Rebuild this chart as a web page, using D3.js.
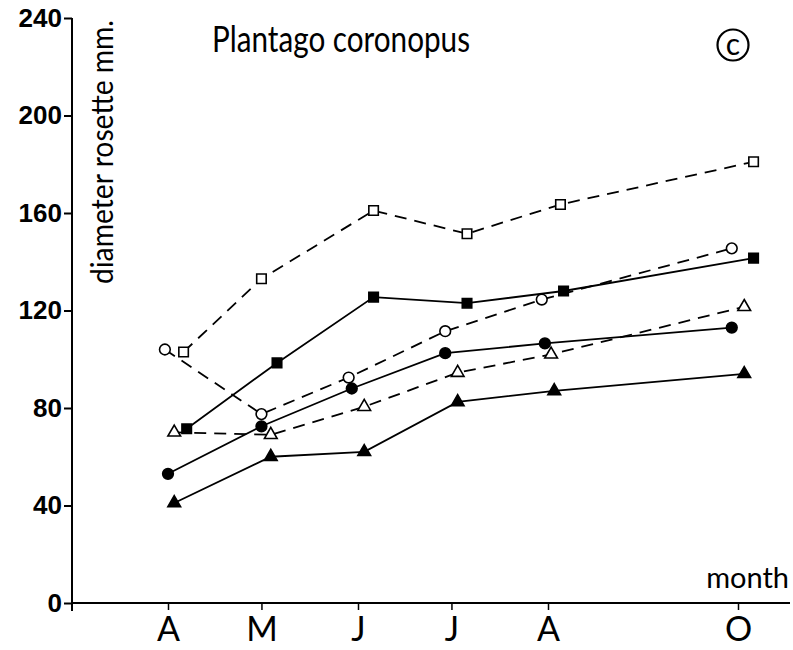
<!DOCTYPE html>
<html>
<head>
<meta charset="utf-8">
<script src="https://cdn.jsdelivr.net/npm/d3@7"></script>
<style>
  body { margin: 0; background: #fff; }
  svg text { fill: #000; }
</style>
</head>
<body>
<div id="chart"></div>
<script>
var svgWidth = 793;
var svgHeight = 650;

// sampling dates (day of visit) and rosette diameters
var parseDate = d3.timeParse("%Y-%m-%d");

var openSquareDates = ["1980-04-20", "1980-05-15", "1980-06-20", "1980-07-20", "1980-08-19", "1980-10-20"];
var openSquareValues = [103, 133, 161, 151.5, 163.5, 181];

var filledSquareDates = ["1980-04-21", "1980-05-20", "1980-06-20", "1980-07-20", "1980-08-20", "1980-10-20"];
var filledSquareValues = [71.5, 98.5, 125.5, 123, 128, 141.5];

var openCircleDates = ["1980-04-14", "1980-05-15", "1980-06-12", "1980-07-13", "1980-08-13", "1980-10-13"];
var openCircleValues = [104, 77.5, 92.5, 111.5, 124.5, 145.5];

var filledCircleDates = ["1980-04-15", "1980-05-15", "1980-06-13", "1980-07-13", "1980-08-14", "1980-10-13"];
var filledCircleValues = [53, 72.5, 88, 102.5, 106.5, 113];

var openTriangleDates = ["1980-04-17", "1980-05-18", "1980-06-17", "1980-07-17", "1980-08-16", "1980-10-17"];
var openTriangleValues = [70, 69, 80.5, 94.5, 102, 121.5];

var filledTriangleDates = ["1980-04-17", "1980-05-18", "1980-06-17", "1980-07-17", "1980-08-17", "1980-10-17"];
var filledTriangleValues = [41, 60, 62, 82.5, 87, 94];

var monthTickDates = ["1980-04-15", "1980-05-15", "1980-06-15", "1980-07-15", "1980-08-15", "1980-10-15"];
var monthTickLabels = ["A", "M", "J", "J", "A", "O"];
var yTickValues = [0, 40, 80, 120, 160, 200, 240];

var series = [
  { dates: openSquareDates, values: openSquareValues, shape: d3.symbolSquare, size: 90, filled: false, dashed: true },
  { dates: filledSquareDates, values: filledSquareValues, shape: d3.symbolSquare, size: 90, filled: true, dashed: false },
  { dates: openCircleDates, values: openCircleValues, shape: d3.symbolCircle, size: 90, filled: false, dashed: true },
  { dates: filledCircleDates, values: filledCircleValues, shape: d3.symbolCircle, size: 90, filled: true, dashed: false },
  { dates: openTriangleDates, values: openTriangleValues, shape: d3.symbolTriangle, size: 70, filled: false, dashed: true },
  { dates: filledTriangleDates, values: filledTriangleValues, shape: d3.symbolTriangle, size: 70, filled: true, dashed: false }
];

var svg = d3.select("#chart")
  .append("svg")
  .attr("width", svgWidth)
  .attr("height", svgHeight);

// scales
var xScale = d3.scaleTime()
  .domain([parseDate("1980-04-15"), parseDate("1980-10-15")])
  .range([168, 738]);
var yScale = d3.scaleLinear()
  .domain([0, 240])
  .range([603, 18]);

var axisLeftX = 72;

// y axis
var yAxis = d3.axisLeft(yScale)
  .tickValues(yTickValues)
  .tickSize(8)
  .tickPadding(2)
  .tickFormat(d3.format("d"));

var yAxisG = svg.append("g")
  .attr("transform", `translate(${axisLeftX},0)`)
  .call(yAxis);
yAxisG.select(".domain").remove();
yAxisG.append("line")
  .attr("x1", 0).attr("x2", 0)
  .attr("y1", yScale(240)).attr("y2", yScale(0) + 8)
  .attr("stroke", "#000").attr("stroke-width", 2);
yAxisG.selectAll(".tick line").attr("stroke-width", 2);
yAxisG.selectAll(".tick text")
  .style("font-family", "'Liberation Sans', Arial, sans-serif")
  .style("font-size", "26px")
  .style("font-weight", "bold");

// x axis
var xAxis = d3.axisBottom(xScale)
  .tickValues(monthTickDates.map(parseDate))
  .tickSize(7)
  .tickPadding(7)
  .tickFormat((d, i) => monthTickLabels[i]);

var xAxisG = svg.append("g")
  .attr("transform", `translate(0,${yScale(0)})`)
  .call(xAxis);
xAxisG.select(".domain").remove();
xAxisG.append("line")
  .attr("x1", axisLeftX).attr("x2", 790)
  .attr("y1", 0).attr("y2", 0)
  .attr("stroke", "#000").attr("stroke-width", 2);
xAxisG.selectAll(".tick line").attr("stroke-width", 1.5);
xAxisG.selectAll(".tick text")
  .style("font-family", "Lato, sans-serif")
  .style("font-size", "34px");

// lines and markers
var line = d3.line()
  .x(d => xScale(d.date))
  .y(d => yScale(d.value));

series.forEach(function(s) {
  var pts = s.dates.map((d, i) => ({ date: parseDate(d), value: s.values[i] }));

  svg.append("path")
    .datum(pts)
    .attr("d", line)
    .attr("fill", "none")
    .attr("stroke", "#000")
    .attr("stroke-width", 1.8)
    .attr("stroke-dasharray", s.dashed ? "12,8" : null);

  svg.selectAll(null)
    .data(pts)
    .enter()
    .append("path")
    .attr("d", d3.symbol().type(s.shape).size(s.size))
    .attr("transform", d => `translate(${xScale(d.date)},${yScale(d.value)})`)
    .attr("fill", s.filled ? "#000" : "#fff")
    .attr("stroke", "#000")
    .attr("stroke-width", 1.6);
});

// texts
svg.append("text")
  .attr("x", 212)
  .attr("y", 52)
  .attr("textLength", 258)
  .attr("lengthAdjust", "spacingAndGlyphs")
  .style("font-family", "Lato, sans-serif")
  .style("font-size", "36px")
  .text("Plantago coronopus");

svg.append("circle")
  .attr("cx", 733).attr("cy", 45).attr("r", 15.5)
  .attr("fill", "none").attr("stroke", "#000").attr("stroke-width", 2.2);
svg.append("text")
  .attr("x", 733).attr("y", 55)
  .attr("text-anchor", "middle")
  .style("font-family", "Lato, sans-serif")
  .style("font-size", "30px")
  .text("c");

svg.append("text")
  .attr("transform", "translate(113,284) rotate(-90)")
  .attr("textLength", 264)
  .attr("lengthAdjust", "spacingAndGlyphs")
  .style("font-family", "Lato, sans-serif")
  .style("font-size", "30px")
  .text("diameter rosette mm.");

svg.append("text")
  .attr("x", 789)
  .attr("y", 588)
  .attr("text-anchor", "end")
  .style("font-family", "Lato, sans-serif")
  .style("font-size", "29px")
  .text("month");
</script>
</body>
</html>
